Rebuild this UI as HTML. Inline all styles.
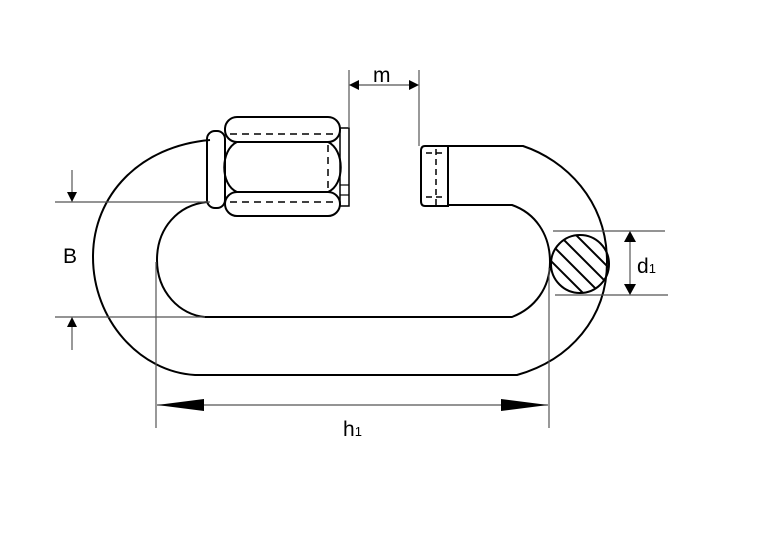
<!DOCTYPE html>
<html><head><style>body{margin:0;background:#fff}svg{display:block}</style></head><body>
<svg width="778" height="549" viewBox="0 0 778 549" xmlns="http://www.w3.org/2000/svg" font-family="Liberation Sans, sans-serif">
<g fill="none" stroke="#000" stroke-width="2">
<path d="M210,140 C140,146 93,195 93,257 C93,320 140,372 195,375 L517,375 C570,360 607,318 607,262 C607,200 565,160 523,146 L448,146"/>
<path d="M207,202 C178,205 157,228 157,260 C157,292 180,315 205,317 L512,317 C535,308 550,288 550,262 C550,234 535,213 512,205 L448,205"/>
<rect x="207" y="131" width="18" height="77" rx="8"/>
<rect x="225" y="117" width="115" height="25" rx="12"/>
<rect x="225" y="192" width="115" height="24" rx="12"/>
<path d="M237,142 L328,142 C345,150 345,185 328,192 L237,192 C220,185 220,150 237,142 Z"/>
<rect x="340" y="128" width="9" height="78" stroke-width="1.5"/>
<line x1="340" y1="185" x2="349" y2="185" stroke-width="1.2"/>
<line x1="340" y1="195" x2="349" y2="195" stroke-width="1.2"/>
<path d="M448,146 L425,146 Q421,146 421,151 L421,201 Q421,206 425,206 L448,206 Z"/>
</g>
<g fill="none" stroke="#000" stroke-width="1.5" stroke-dasharray="7,5">
<line x1="230" y1="134" x2="335" y2="134"/>
<line x1="230" y1="202" x2="335" y2="202"/>
<line x1="328" y1="145" x2="328" y2="190"/>
<line x1="436" y1="149" x2="436" y2="205" stroke-dasharray="6,4"/>
<line x1="426" y1="153" x2="446" y2="153" stroke-dasharray="6,4"/>
<line x1="426" y1="197" x2="446" y2="197" stroke-dasharray="6,4"/>
</g>
<defs><clipPath id="c"><circle cx="580" cy="264" r="29"/></clipPath></defs>
<g stroke="#000" stroke-width="2" clip-path="url(#c)">
<line x1="530" y1="189" x2="630" y2="289"/>
<line x1="530" y1="206" x2="630" y2="306"/>
<line x1="530" y1="223" x2="630" y2="323"/>
<line x1="530" y1="240" x2="630" y2="340"/>
</g>
<circle cx="580" cy="264" r="29" fill="none" stroke="#000" stroke-width="2"/>
<g stroke="#555" stroke-width="1.2" fill="none">
<line x1="349" y1="70" x2="349" y2="128"/>
<line x1="419" y1="70" x2="419" y2="146"/>
<line x1="355" y1="85" x2="413" y2="85"/>
<line x1="55" y1="202" x2="210" y2="202"/>
<line x1="55" y1="317" x2="205" y2="317"/>
<line x1="72" y1="170" x2="72" y2="196"/>
<line x1="72" y1="323" x2="72" y2="350"/>
<line x1="553" y1="231" x2="665" y2="231"/>
<line x1="555" y1="295" x2="668" y2="295"/>
<line x1="630" y1="237" x2="630" y2="289"/>
<line x1="156" y1="262" x2="156" y2="428"/>
<line x1="549" y1="268" x2="549" y2="428"/>
<line x1="157" y1="405" x2="548" y2="405"/>
</g>
<g fill="#000">
<polygon points="349,85 359,80 359,90"/>
<polygon points="419,85 409,80 409,90"/>
<polygon points="72,202 67,192 77,192"/>
<polygon points="72,317 67,327 77,327"/>
<polygon points="630,231 624,242 636,242"/>
<polygon points="630,295 624,284 636,284"/>
<polygon points="157,405 204,399 204,411"/>
<polygon points="548,405 501,399 501,411"/>
</g>
<g fill="#000" font-size="21">
<text x="373" y="82">m</text>
<text x="63" y="263">B</text>
<text x="637" y="273">d<tspan font-size="13">1</tspan></text>
<text x="343" y="436">h<tspan font-size="13">1</tspan></text>
</g>
</svg>
</body></html>
